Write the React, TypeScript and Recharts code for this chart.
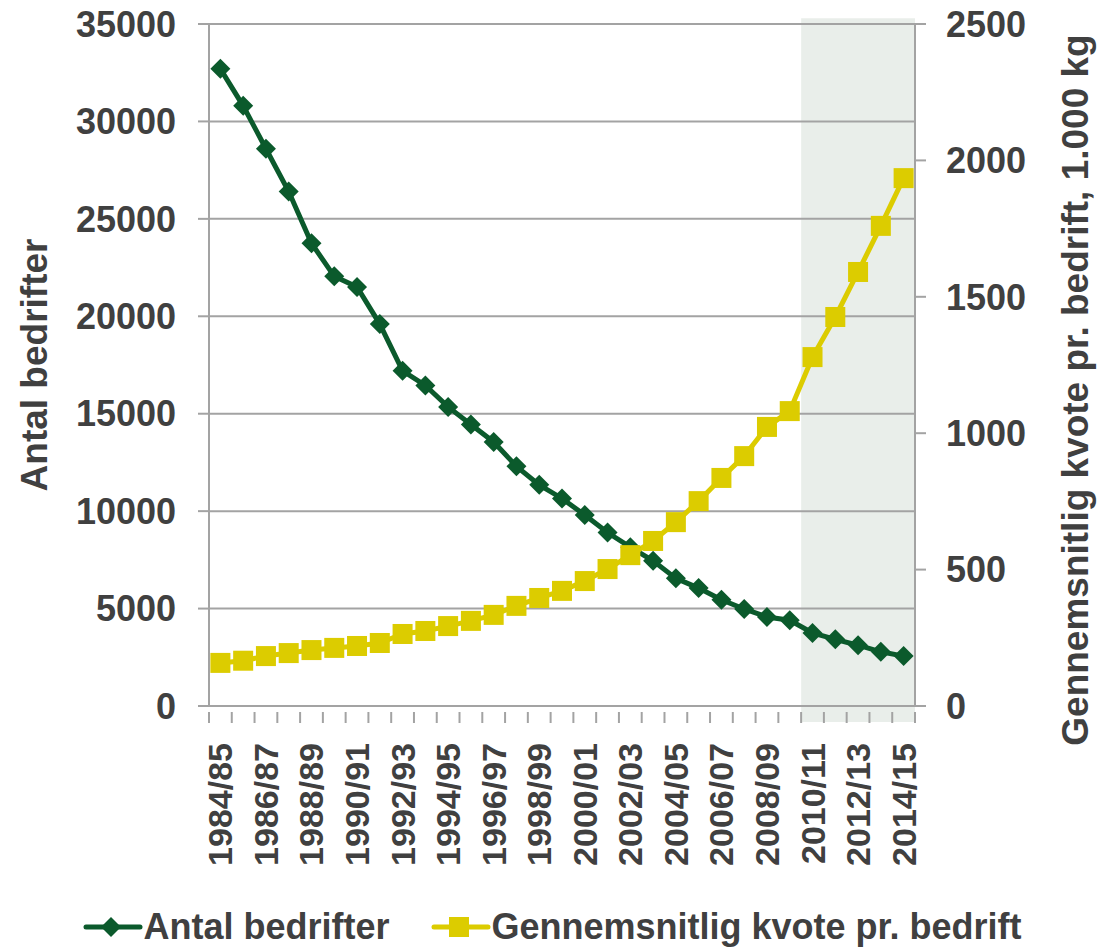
import React from "react";
import {
  LineChart,
  Line,
  XAxis,
  YAxis,
  CartesianGrid,
  ReferenceArea,
  Legend,
} from "recharts";

const SEASONS = [
  "1984/85", "1985/86", "1986/87", "1987/88", "1988/89", "1989/90", "1990/91",
  "1991/92", "1992/93", "1993/94", "1994/95", "1995/96", "1996/97", "1997/98",
  "1998/99", "1999/00", "2000/01", "2001/02", "2002/03", "2003/04", "2004/05",
  "2005/06", "2006/07", "2007/08", "2008/09", "2009/10", "2010/11", "2011/12",
  "2012/13", "2013/14", "2014/15",
];

const FARMS = [
  32700, 30800, 28600, 26400, 23750, 22050, 21500, 19600, 17200, 16450, 15350,
  14450, 13550, 12300, 11350, 10650, 9800, 8900, 8150, 7450, 6550, 6050, 5450,
  4980, 4570, 4400, 3750, 3420, 3120, 2780, 2560,
];

const QUOTA = [
  158, 166, 183, 194, 205, 213, 220, 231, 264, 275, 293, 312, 334, 367, 396,
  422, 458, 502, 553, 605, 674, 751, 836, 916, 1023, 1081, 1279, 1426, 1591,
  1760, 1935,
];

const LEFT_TICKS = [0, 5000, 10000, 15000, 20000, 25000, 30000, 35000];
const RIGHT_TICKS = [0, 500, 1000, 1500, 2000, 2500];

// shaded band of the last seasons
const SHADE_FROM = "2010/11";
const SHADE_TO = "2014/15";

const GREEN = "#0b5a2c";
const YELLOW = "#dccc00";
const TEXT = "#404040";
const GRID = "#a3a3a3";
const FONT = "'Liberation Sans', Arial, sans-serif";

const data = SEASONS.map((season, i) => ({
  season,
  farms: FARMS[i],
  quota: QUOTA[i],
}));

function Diamond(props: any) {
  const { cx, cy } = props;
  if (cx == null || cy == null) return null;
  const r = 10;
  return (
    <path
      d={`M${cx},${cy - r} L${cx + r},${cy} L${cx},${cy + r} L${cx - r},${cy} Z`}
      fill={GREEN}
    />
  );
}

function Square(props: any) {
  const { cx, cy } = props;
  if (cx == null || cy == null) return null;
  const s = 10;
  return <rect x={cx - s} y={cy - s} width={s * 2} height={s * 2} fill={YELLOW} />;
}

function SeasonTick(props: any) {
  const { x, y, payload, index } = props;
  const half = payload?.offset || 11.39;
  const last = index === SEASONS.length - 1;
  return (
    <g>
      <line x1={x - half} y1={y - 2} x2={x - half} y2={y + 9} stroke={GRID} strokeWidth={2} />
      {last && (
        <line x1={x + half} y1={y - 2} x2={x + half} y2={y + 9} stroke={GRID} strokeWidth={2} />
      )}
      {index % 2 === 0 && (
        <text
          x={x}
          y={y + 29}
          transform={`rotate(-90, ${x}, ${y + 29})`}
          textAnchor="end"
          dominantBaseline="central"
          fill={TEXT}
          fontSize={34}
          fontWeight="bold"
          fontFamily={FONT}
        >
          {payload.value}
        </text>
      )}
    </g>
  );
}

function AxisTitle({ viewBox, value, dx, dy }: any) {
  const cx = viewBox.x + dx;
  const cy = viewBox.y + viewBox.height / 2 + dy;
  return (
    <text
      x={cx}
      y={cy}
      transform={`rotate(-90, ${cx}, ${cy})`}
      textAnchor="middle"
      dominantBaseline="central"
      fill={TEXT}
      fontSize={37}
      fontWeight="bold"
      fontFamily={FONT}
    >
      {value}
    </text>
  );
}

function LegendBox() {
  const item = (label: string, color: string, square: boolean) => (
    <div style={{ display: "flex", alignItems: "center" }}>
      <svg width={60} height={24}>
        <line x1={3} y1={12} x2={57} y2={12} stroke={color} strokeWidth={5} strokeLinecap="round" />
        {square ? (
          <rect x={18} y={2} width={20} height={20} fill={color} />
        ) : (
          <path d="M28,2 L38,12 L28,22 L18,12 Z" fill={color} />
        )}
      </svg>
      <span>{label}</span>
    </div>
  );
  return (
    <div
      style={{
        display: "flex",
        justifyContent: "center",
        gap: 42,
        fontFamily: FONT,
        fontWeight: "bold",
        fontSize: 36,
        color: TEXT,
        lineHeight: "44px",
      }}
    >
      {item("Antal bedrifter", GREEN, false)}
      {item("Gennemsnitlig kvote pr. bedrift", YELLOW, true)}
    </div>
  );
}

const tickStyle = { fill: TEXT, fontSize: 36, fontWeight: "bold", fontFamily: FONT };
const axisStroke = { stroke: GRID, strokeWidth: 2 };

export default function App() {
  return (
    <div style={{ position: "absolute", left: 0, top: 0, background: "#fff" }}>
      <LineChart
        width={1105}
        height={949}
        data={data}
        margin={{ top: 24, right: 0, left: 0, bottom: 0 }}
      >
        <XAxis
          dataKey="season"
          scale="band"
          interval={0}
          height={199}
          axisLine={axisStroke}
          tickLine={false}
          tick={<SeasonTick />}
        />
        <YAxis
          yAxisId="left"
          width={209}
          domain={[0, 35000]}
          ticks={LEFT_TICKS}
          tick={tickStyle}
          tickSize={11}
          tickMargin={22}
          axisLine={axisStroke}
          tickLine={axisStroke}
          label={<AxisTitle value="Antal bedrifter" dx={34} dy={0} />}
        />
        <YAxis
          yAxisId="right"
          orientation="right"
          width={190}
          domain={[0, 2500]}
          ticks={RIGHT_TICKS}
          tick={tickStyle}
          tickSize={11}
          tickMargin={20}
          axisLine={axisStroke}
          tickLine={axisStroke}
          label={
            <AxisTitle value="Gennemsnitlig kvote pr. bedrift, 1.000 kg" dx={160} dy={25} />
          }
        />
        <ReferenceArea
          yAxisId="left"
          x1={SHADE_FROM}
          x2={SHADE_TO}
          y1={-820}
          y2={35300}
          ifOverflow="visible"
          fill="rgb(200,212,202)"
          fillOpacity={0.4}
          stroke="none"
          zIndex={-200}
        />
        <CartesianGrid yAxisId="left" vertical={false} stroke={GRID} strokeWidth={2} />
        <Legend verticalAlign="bottom" height={44} content={<LegendBox />} />
        <Line
          yAxisId="left"
          dataKey="farms"
          stroke={GREEN}
          strokeWidth={5}
          dot={<Diamond />}
          activeDot={false}
          isAnimationActive={false}
        />
        <Line
          yAxisId="right"
          dataKey="quota"
          stroke={YELLOW}
          strokeWidth={5}
          dot={<Square />}
          activeDot={false}
          isAnimationActive={false}
        />
      </LineChart>
    </div>
  );
}
